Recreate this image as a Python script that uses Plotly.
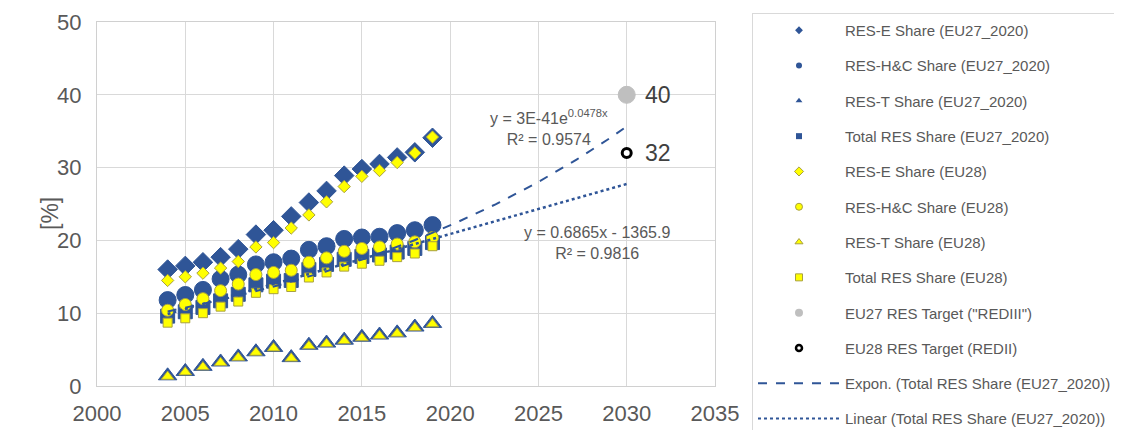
import numpy as np
import plotly.graph_objects as go

# ── data ──
years = list(range(2004, 2020))

res_e_eu27 = [16.0, 16.5, 17.0, 17.7, 18.8, 20.8, 21.4, 23.3, 25.2, 26.8, 28.9, 29.8, 30.5, 31.4, 32.1, 34.1]
res_hc_eu27 = [11.8, 12.5, 13.2, 14.7, 15.3, 16.7, 17.0, 17.5, 18.7, 19.2, 20.2, 20.4, 20.5, 21.0, 21.4, 22.1]
res_t_eu27 = [1.4, 2.0, 2.7, 3.3, 4.0, 4.7, 5.3, 3.9, 5.6, 5.9, 6.3, 6.7, 7.0, 7.3, 8.1, 8.6]
total_eu27 = [9.6, 10.2, 10.8, 11.7, 12.6, 13.9, 14.4, 14.5, 16.0, 16.7, 17.4, 17.8, 18.0, 18.4, 18.9, 19.7]

res_e_eu28 = [14.5, 15.0, 15.5, 16.2, 17.1, 19.1, 19.7, 21.7, 23.5, 25.3, 27.4, 28.8, 29.6, 30.7, 32.0, 34.2]
res_hc_eu28 = [10.4, 11.2, 12.0, 13.1, 14.0, 15.3, 15.6, 15.9, 17.0, 17.6, 18.5, 18.9, 19.1, 19.5, 19.8, 20.4]
res_t_eu28 = [1.3, 1.9, 2.6, 3.2, 3.9, 4.6, 5.2, 3.8, 5.5, 5.8, 6.2, 6.6, 6.9, 7.2, 8.0, 8.5]
total_eu28 = [8.7, 9.3, 10.0, 10.9, 11.6, 12.8, 13.3, 13.6, 14.9, 15.6, 16.4, 16.8, 17.2, 17.7, 18.2, 19.2]

target_year = [2030]
target_eu27 = [40]
target_eu28 = [32]

BLUE = "#2F5597"
YELLOW = "#FFFF00"
YEL_EDGE = "#A8A040"
GREY_TXT = "#595959"
FONT = "Liberation Sans"

# page body adds 8px margin, so the figure is 8px smaller than the window
W, H = 1114, 422

# trendlines (Excel-style fits of Total RES Share EU27_2020, forecast to 2030)
trend_x = np.linspace(2004, 2030, 120)
b_exp, a_exp = np.polyfit(years, np.log(total_eu27), 1)
exp_y = np.exp(a_exp + b_exp * trend_x)
b_lin, a_lin = np.polyfit(years, total_eu27, 1)
lin_y = a_lin + b_lin * trend_x

fig = go.Figure()


def pts(y, symbol, size, color, edge, edge_w=1, x=years):
    fig.add_trace(go.Scatter(
        x=x, y=y, mode="markers", showlegend=False, hoverinfo="skip",
        marker=dict(symbol=symbol, size=size, color=color,
                    line=dict(color=edge, width=edge_w)),
    ))


# EU27_2020 series (blue)
pts(res_e_eu27, "diamond", 15, BLUE, BLUE)
pts(res_hc_eu27, "circle", 17, BLUE, BLUE)
pts(res_t_eu27, "triangle-up", 16, BLUE, BLUE)
pts(total_eu27, "square", 14, BLUE, BLUE)
# EU28 series (yellow)
pts(res_e_eu28, "diamond", 9.5, YELLOW, YEL_EDGE)
pts(res_hc_eu28, "circle", 12, YELLOW, YEL_EDGE)
pts(res_t_eu28, "triangle-up", 11, YELLOW, YEL_EDGE)
pts(total_eu28, "square", 9, YELLOW, YEL_EDGE)

# trendlines
fig.add_trace(go.Scatter(x=trend_x, y=exp_y, mode="lines", showlegend=False,
                         line=dict(color=BLUE, width=2, dash="dash")))
fig.add_trace(go.Scatter(x=trend_x, y=lin_y, mode="lines", showlegend=False,
                         line=dict(color=BLUE, width=2.5, dash="dot")))

# 2030 targets
pts(target_eu27, "circle", 17, "#BFBFBF", "#BFBFBF", x=target_year)
pts(target_eu28, "circle", 9, "white", "black", 3, x=target_year)
for v in target_eu27 + target_eu28:
    fig.add_annotation(x=target_year[0], y=v, text=str(v), showarrow=False,
                       xanchor="left", xshift=16, font=dict(size=23, color="#404040"))

# ── legend (small symbols, like the Excel legend) ──
legend_items = [
    ("RES-E Share (EU27_2020)", dict(symbol="diamond", size=6, color=BLUE), None),
    ("RES-H&C Share (EU27_2020)", dict(symbol="circle", size=6, color=BLUE), None),
    ("RES-T Share (EU27_2020)", dict(symbol="triangle-up", size=6, color=BLUE), None),
    ("Total RES Share (EU27_2020)", dict(symbol="square", size=6, color=BLUE), None),
    ("RES-E Share (EU28)", dict(symbol="diamond", size=7, color=YELLOW, line=dict(color=YEL_EDGE, width=1)), None),
    ("RES-H&C Share (EU28)", dict(symbol="circle", size=7, color=YELLOW, line=dict(color=YEL_EDGE, width=1)), None),
    ("RES-T Share (EU28)", dict(symbol="triangle-up", size=7, color=YELLOW, line=dict(color=YEL_EDGE, width=1)), None),
    ("Total RES Share (EU28)", dict(symbol="square", size=7, color=YELLOW, line=dict(color=YEL_EDGE, width=1)), None),
    ('EU27 RES Target ("REDIII")', dict(symbol="circle", size=8, color="#BFBFBF"), None),
    ("EU28 RES Target (REDII)", dict(symbol="circle", size=6, color="white", line=dict(color="black", width=2.5)), None),
    ("Expon. (Total RES Share (EU27_2020))", None, dict(color=BLUE, width=2, dash="dash")),
    ("Linear (Total RES Share (EU27_2020))", None, dict(color=BLUE, width=2, dash="dot")),
]
for i, (name, mk, ln) in enumerate(legend_items):
    if mk is not None:
        fig.add_trace(go.Scatter(x=[None], y=[None], mode="markers", name=name,
                                 marker=mk, legendgroup=f"g{i}"))
    else:
        fig.add_trace(go.Scatter(x=[None], y=[None], mode="lines", name=name,
                                 line=ln, legendgroup=f"g{i}"))

# trendline equations
fig.add_annotation(x=2025.6, y=35.5, showarrow=False,
                   text="y = 3E-41e<sup>0.0478x</sup><br>R² = 0.9574",
                   font=dict(size=16, color=GREY_TXT, family=FONT))
fig.add_annotation(x=2028.3, y=19.7, showarrow=False,
                   text="y = 0.6865x - 1365.9<br>R² = 0.9816",
                   font=dict(size=16, color=GREY_TXT, family=FONT))

# y axis title, placed by hand
fig.add_annotation(xref="paper", yref="paper", x=(42 - 89) / 618, y=(378 - 206) / 364,
                   xanchor="center", yanchor="middle",
                   text="[%]", textangle=-90, showarrow=False,
                   font=dict(size=23, color=GREY_TXT, family=FONT))

fig.update_layout(
    width=W, height=H,
    margin=dict(l=89, r=W - 707, t=14, b=H - 378),
    plot_bgcolor="white", paper_bgcolor="white",
    font=dict(family=FONT, size=20, color=GREY_TXT),
    legend=dict(
        xref="container", yref="container",
        x=744 / W, y=1 - 5 / H, xanchor="left", yanchor="top",
        bordercolor="#D9D9D9", borderwidth=1,
        font=dict(size=15, color=GREY_TXT, family=FONT),
        tracegroupgap=12.8, itemwidth=82, maxheight=470,
    ),
)
fig.update_xaxes(range=[2000, 2035], dtick=5, tick0=2000, showgrid=True,
                 gridcolor="#D9D9D9", zeroline=False, showline=True, mirror=True,
                 linecolor="#D0D0D0", ticks="", ticklabelstandoff=8,
                 tickfont=dict(size=22), automargin=False)
fig.update_yaxes(range=[0, 50], dtick=10, showgrid=True, gridcolor="#D9D9D9",
                 zeroline=False, showline=True, mirror=True, linecolor="#D0D0D0",
                 ticks="", ticklabelstandoff=10, tickfont=dict(size=22), automargin=False)

fig.write_html("out.html")
